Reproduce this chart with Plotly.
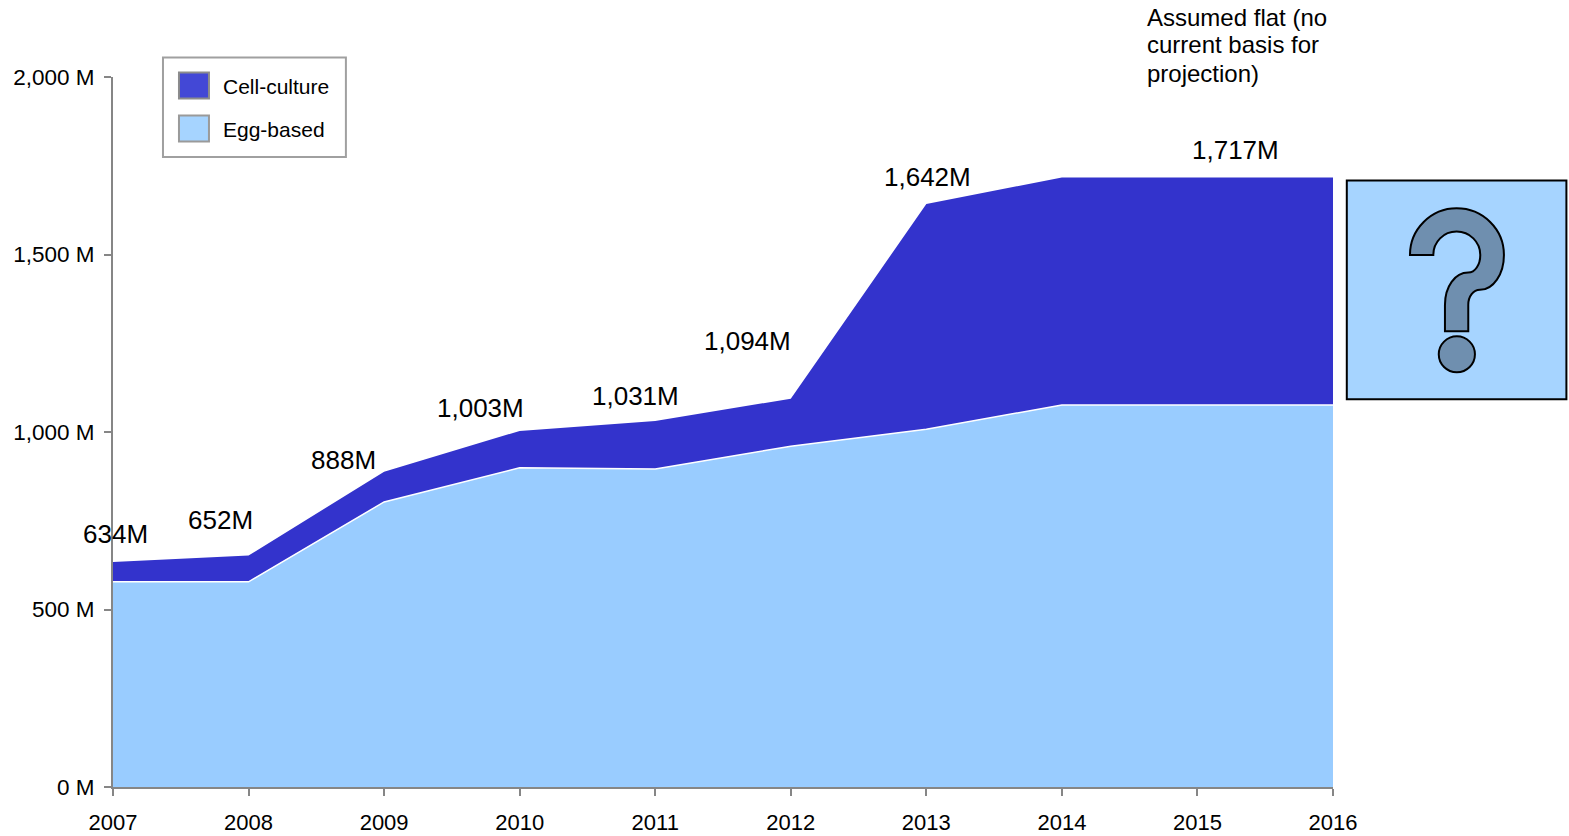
import plotly.graph_objects as go

# Annual doses by manufacturing method, in millions
years = [2007, 2008, 2009, 2010, 2011, 2012, 2013, 2014, 2015, 2016]
egg_based = [578, 578, 803, 899, 896, 960, 1008, 1076, 1076, 1076]
cell_culture = [56, 74, 85, 104, 135, 134, 634, 641, 641, 641]

# Totals called out above the stack, with their pixel offsets from the stack top
label_years = [2007, 2008, 2009, 2010, 2011, 2012, 2013, 2015]
label_totals = [634, 652, 888, 1003, 1031, 1094, 1642, 1717]
label_shift_x = [2, -28, -41, -39, -20, -43, 1, 38]
label_shift_y = [28, 36, 12, 23, 25, 58, 27, 27]

y_ticks = [0, 500, 1000, 1500, 2000]
y_tick_text = ["0 M", "500 M", "1,000 M", "1,500 M", "2,000 M"]

note_lines = ["Assumed flat (no", "current basis for", "projection)"]
note_centres = [17, 44.5, 73]

WIDTH, HEIGHT = 1569, 836
LEFT, RIGHT, TOP, BOTTOM = 112.5, 1333, 77, 787.5
FONT = "Liberation Sans, Arial, sans-serif"
AXIS = "#868686"
DARK_BLUE, LIGHT_BLUE = "#3333CC", "#99CCFF"
KEY_DARK, KEY_LIGHT = "#4348D6", "#A6D4FF"
GLYPH = "#6F8FAF"


def px(x):
    return (x - LEFT) / (RIGHT - LEFT)


def py(y):
    return (BOTTOM - y) / (BOTTOM - TOP)


def box(x0, y0, x1, y1, fill, line, width):
    return dict(type="rect", xref="paper", yref="paper",
                x0=px(x0), x1=px(x1), y0=py(y0), y1=py(y1),
                fillcolor=fill, line=dict(color=line, width=width), layer="above")


def glyph_point(zx, zy):
    # Glyph outline is laid out on a 3x grid anchored at the panel corner
    return f"{px(1300 + zx / 3):.5f},{py(160 + zy / 3):.5f}"


def curve(*pts):
    return "C" + " ".join(glyph_point(*p) for p in pts)


question_path = (
    "M" + glyph_point(330, 285)
    + curve((330, 208), (393, 145), (470, 145))
    + curve((549, 145), (612, 208), (612, 285))
    + curve((612, 343), (580, 390), (540, 390))
    + curve((520, 390), (505, 410), (505, 435))
    + "L" + glyph_point(505, 514)
    + "L" + glyph_point(435, 514)
    + "L" + glyph_point(435, 435)
    + curve((435, 380), (465, 338), (505, 338))
    + curve((525, 338), (541, 315), (541, 285))
    + curve((541, 246), (509, 215), (470, 215))
    + curve((431, 215), (400, 246), (400, 285))
    + "Z"
)

fig = go.Figure()
fig.add_trace(go.Scatter(x=years, y=egg_based, name="Egg-based", mode="lines",
                         stackgroup="doses", fillcolor=LIGHT_BLUE,
                         line=dict(color="white", width=1.5)))
fig.add_trace(go.Scatter(x=years, y=cell_culture, name="Cell-culture", mode="lines",
                         stackgroup="doses", fillcolor=DARK_BLUE,
                         line=dict(color=DARK_BLUE, width=0)))

annotations = [
    dict(x=x, y=t, xref="x", yref="y", text=f"{t:,}M", showarrow=False,
         xanchor="center", yanchor="middle", xshift=dx, yshift=dy,
         font=dict(family=FONT, size=26, color="black"))
    for x, t, dx, dy in zip(label_years, label_totals, label_shift_x, label_shift_y)
]
for line, cy in zip(note_lines, note_centres):
    annotations.append(dict(x=px(1145), y=py(cy), xref="paper", yref="paper",
                            xanchor="left", yanchor="middle", showarrow=False, text=line,
                            font=dict(family=FONT, size=24, color="black")))
for name, cy in (("Cell-culture", 86.5), ("Egg-based", 129.5)):
    annotations.append(dict(x=px(221), y=py(cy), xref="paper", yref="paper",
                            xanchor="left", yanchor="middle", showarrow=False, text=name,
                            font=dict(family=FONT, size=21, color="black")))

shapes = [
    box(162.5, 57.5, 345.5, 157, "white", "#A0A0A0", 2),
    box(178.5, 72.5, 208.5, 98.5, KEY_DARK, "#8C8C8C", 2),
    box(178.5, 115.5, 208.5, 141.5, KEY_LIGHT, "#9A9A9A", 2),
    box(1346.8, 180.5, 1566.5, 399.5, KEY_LIGHT, "black", 2),
    dict(type="path", xref="paper", yref="paper", path=question_path, fillcolor=GLYPH,
         line=dict(color="black", width=2), layer="above"),
    dict(type="circle", xref="paper", yref="paper",
         x0=px(1438.8), x1=px(1475), y0=py(336.5), y1=py(372.5),
         fillcolor=GLYPH, line=dict(color="black", width=2), layer="above"),
]

fig.update_layout(
    width=WIDTH, height=HEIGHT, autosize=False, showlegend=False,
    paper_bgcolor="white", plot_bgcolor="white",
    margin=dict(l=LEFT, r=WIDTH - RIGHT, t=TOP, b=HEIGHT - BOTTOM, pad=0, autoexpand=False),
    annotations=annotations, shapes=shapes,
    xaxis=dict(range=[2007, 2016], tickvals=years, ticktext=[str(y) for y in years],
               automargin=False,
               showgrid=False, zeroline=False, showline=True, linecolor=AXIS, linewidth=2,
               ticks="outside", ticklen=7, tickwidth=1.5, tickcolor=AXIS,
               ticklabelstandoff=8,
               tickfont=dict(family=FONT, size=22, color="black")),
    yaxis=dict(range=[0, 2000], tickvals=y_ticks, ticktext=y_tick_text,
               automargin=False,
               showgrid=False, zeroline=False, showline=True, linecolor=AXIS, linewidth=2,
               ticks="outside", ticklen=7, tickwidth=1.5, tickcolor=AXIS,
               ticklabelstandoff=5,
               tickfont=dict(family=FONT, size=22.5, color="black")),
)

fig.write_html("out.html")
